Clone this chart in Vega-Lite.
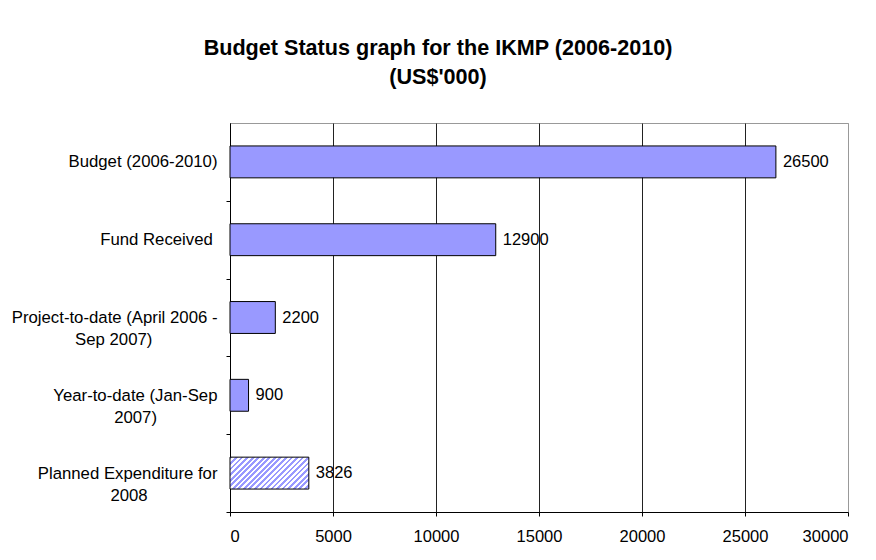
{
  "$schema": "https://vega.github.io/schema/vega-lite/v6.json",
  "width": 618,
  "height": 389,
  "autosize": {"type": "none"},
  "padding": {"left": 230, "top": 123, "right": 28, "bottom": 48},
  "background": "white",
  "title": {
    "text": ["Budget Status graph for the IKMP (2006-2010)", "(US$'000)"],
    "font": "Liberation Sans",
    "fontSize": 21.6,
    "fontWeight": "bold",
    "color": "#000000",
    "lineHeight": 29,
    "anchor": "middle",
    "dx": -101,
    "offset": 34
  },
  "data": {
    "values": [
      {"item": "Budget (2006-2010)", "value": 26500, "kind": "Actual"},
      {"item": "Fund Received", "value": 12900, "kind": "Actual"},
      {"item": "Project-to-date (April 2006 - Sep 2007)", "value": 2200, "kind": "Actual"},
      {"item": "Year-to-date (Jan-Sep 2007)", "value": 900, "kind": "Actual"},
      {"item": "Planned Expenditure for 2008", "value": 3826, "kind": "Planned"}
    ]
  },
  "encoding": {
    "y": {
      "field": "item",
      "type": "nominal",
      "sort": null,
      "scale": {"paddingInner": 0.59, "paddingOuter": 0.295},
      "axis": {
        "title": null,
        "grid": false,
        "labelAlign": "right",
        "labelBaseline": "middle",
        "labelFont": "Liberation Sans",
        "labelFontSize": 16.75,
        "labelColor": "#000000",
        "labelLineHeight": 22,
        "labelPadding": 9,
        "labelLimit": 400,
        "tickSize": 4,
        "tickOffset": 38.9,
        "labelOffset": -38.9,
        "tickColor": "#000000",
        "domainColor": "#000000",
        "labelExpr": "datum.value === 'Fund Received' ? 'Fund Received\u00a0\u200b' : datum.value === 'Project-to-date (April 2006 - Sep 2007)' ? ['Project-to-date (April 2006 -', 'Sep 2007)\u00a0\u00a0\u00a0\u00a0\u00a0\u00a0\u00a0\u00a0\u00a0\u00a0\u00a0\u00a0\u00a0\u00a0\u200b'] : datum.value === 'Year-to-date (Jan-Sep 2007)' ? ['Year-to-date (Jan-Sep', '2007)\u00a0\u00a0\u00a0\u00a0\u00a0\u00a0\u00a0\u00a0\u00a0\u00a0\u00a0\u00a0\u00a0\u200b'] : datum.value === 'Planned Expenditure for 2008' ? ['Planned Expenditure for', '2008\u00a0\u00a0\u00a0\u00a0\u00a0\u00a0\u00a0\u00a0\u00a0\u00a0\u00a0\u00a0\u00a0\u00a0\u00a0\u200b'] : datum.value"
      }
    },
    "x": {
      "field": "value",
      "type": "quantitative",
      "scale": {"domain": [0, 30000], "nice": false},
      "axis": {
        "title": null,
        "values": [0, 5000, 10000, 15000, 20000, 25000, 30000],
        "format": "d",
        "grid": true,
        "gridColor": {"condition": {"test": "datum.value === 30000", "value": "#999999"}, "value": "#222222"},
        "gridWidth": 1,
        "labelFont": "Liberation Sans",
        "labelFontSize": 16.5,
        "labelColor": "#000000",
        "labelPadding": 12,
        "tickSize": 4,
        "tickColor": "#000000",
        "domainColor": "#000000"
      }
    }
  },
  "layer": [
    {
      "transform": [{"filter": "datum.kind === 'Actual'"}],
      "mark": {"type": "bar", "fill": "#9999FF", "stroke": "#000000", "strokeWidth": 1}
    },
    {
      "transform": [{"filter": "datum.kind === 'Planned'"}],
      "mark": {
        "type": "bar",
        "stroke": "#000000",
        "strokeWidth": 1,
        "fill": {
          "gradient": "linear",
          "x1": 0, "y1": 0, "x2": 1.207, "y2": 0.489,
          "stops": [
            {"offset": 0, "color": "#9999FF"}, {"offset": 0.025, "color": "#9999FF"}, {"offset": 0.025, "color": "#ffffff"}, {"offset": 0.05, "color": "#ffffff"},
            {"offset": 0.05, "color": "#9999FF"}, {"offset": 0.075, "color": "#9999FF"}, {"offset": 0.075, "color": "#ffffff"}, {"offset": 0.1, "color": "#ffffff"},
            {"offset": 0.1, "color": "#9999FF"}, {"offset": 0.125, "color": "#9999FF"}, {"offset": 0.125, "color": "#ffffff"}, {"offset": 0.15, "color": "#ffffff"},
            {"offset": 0.15, "color": "#9999FF"}, {"offset": 0.175, "color": "#9999FF"}, {"offset": 0.175, "color": "#ffffff"}, {"offset": 0.2, "color": "#ffffff"},
            {"offset": 0.2, "color": "#9999FF"}, {"offset": 0.225, "color": "#9999FF"}, {"offset": 0.225, "color": "#ffffff"}, {"offset": 0.25, "color": "#ffffff"},
            {"offset": 0.25, "color": "#9999FF"}, {"offset": 0.275, "color": "#9999FF"}, {"offset": 0.275, "color": "#ffffff"}, {"offset": 0.3, "color": "#ffffff"},
            {"offset": 0.3, "color": "#9999FF"}, {"offset": 0.325, "color": "#9999FF"}, {"offset": 0.325, "color": "#ffffff"}, {"offset": 0.35, "color": "#ffffff"},
            {"offset": 0.35, "color": "#9999FF"}, {"offset": 0.375, "color": "#9999FF"}, {"offset": 0.375, "color": "#ffffff"}, {"offset": 0.4, "color": "#ffffff"},
            {"offset": 0.4, "color": "#9999FF"}, {"offset": 0.425, "color": "#9999FF"}, {"offset": 0.425, "color": "#ffffff"}, {"offset": 0.45, "color": "#ffffff"},
            {"offset": 0.45, "color": "#9999FF"}, {"offset": 0.475, "color": "#9999FF"}, {"offset": 0.475, "color": "#ffffff"}, {"offset": 0.5, "color": "#ffffff"},
            {"offset": 0.5, "color": "#9999FF"}, {"offset": 0.525, "color": "#9999FF"}, {"offset": 0.525, "color": "#ffffff"}, {"offset": 0.55, "color": "#ffffff"},
            {"offset": 0.55, "color": "#9999FF"}, {"offset": 0.575, "color": "#9999FF"}, {"offset": 0.575, "color": "#ffffff"}, {"offset": 0.6, "color": "#ffffff"},
            {"offset": 0.6, "color": "#9999FF"}, {"offset": 0.625, "color": "#9999FF"}, {"offset": 0.625, "color": "#ffffff"}, {"offset": 0.65, "color": "#ffffff"},
            {"offset": 0.65, "color": "#9999FF"}, {"offset": 0.675, "color": "#9999FF"}, {"offset": 0.675, "color": "#ffffff"}, {"offset": 0.7, "color": "#ffffff"},
            {"offset": 0.7, "color": "#9999FF"}, {"offset": 0.725, "color": "#9999FF"}, {"offset": 0.725, "color": "#ffffff"}, {"offset": 0.75, "color": "#ffffff"},
            {"offset": 0.75, "color": "#9999FF"}, {"offset": 0.775, "color": "#9999FF"}, {"offset": 0.775, "color": "#ffffff"}, {"offset": 0.8, "color": "#ffffff"},
            {"offset": 0.8, "color": "#9999FF"}, {"offset": 0.825, "color": "#9999FF"}, {"offset": 0.825, "color": "#ffffff"}, {"offset": 0.85, "color": "#ffffff"},
            {"offset": 0.85, "color": "#9999FF"}, {"offset": 0.875, "color": "#9999FF"}, {"offset": 0.875, "color": "#ffffff"}, {"offset": 0.9, "color": "#ffffff"},
            {"offset": 0.9, "color": "#9999FF"}, {"offset": 0.925, "color": "#9999FF"}, {"offset": 0.925, "color": "#ffffff"}, {"offset": 0.95, "color": "#ffffff"},
            {"offset": 0.95, "color": "#9999FF"}, {"offset": 0.975, "color": "#9999FF"}, {"offset": 0.975, "color": "#ffffff"}, {"offset": 1, "color": "#ffffff"}
          ]
        }
      }
    },
    {
      "mark": {"type": "text", "align": "left", "baseline": "middle", "dx": 7, "font": "Liberation Sans", "fontSize": 16.5, "color": "#000000"},
      "encoding": {
        "text": {"field": "value", "type": "quantitative", "format": "d"}
      }
    }
  ],
  "config": {
    "view": {"stroke": "#999999", "strokeWidth": 1}
  }
}
